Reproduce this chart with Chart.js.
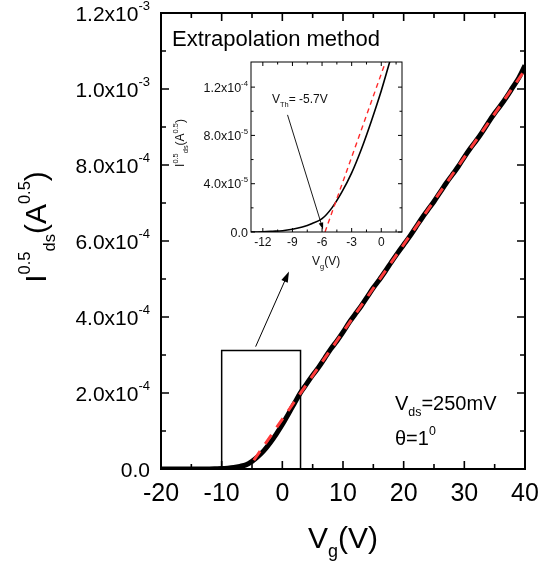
<!DOCTYPE html>
<html>
<head>
<meta charset="utf-8">
<style>
  html, body { margin: 0; padding: 0; background: #fff; }
  #wrap { position: relative; width: 541px; height: 569px; overflow: hidden; }
  canvas { position: absolute; }
</style>
<script src="https://cdn.jsdelivr.net/npm/chart.js@4.4.1/dist/chart.umd.min.js"></script>
</head>
<body>
<div id="wrap">
  <canvas id="main" width="541" height="569" style="left:0;top:0"></canvas>
  <canvas id="inset" width="240" height="220" style="left:170px;top:55px"></canvas>
</div>
<script>
// Transfer curve: gate voltage (V) vs square root of drain current (A^0.5)
const vg = [-20, -18, -16, -14, -12, -11, -10, -9, -8, -7, -6, -5, -4, -3, -2, -1, 0, 1, 2, 3,
  4, 5, 6, 7, 8, 9, 10, 11, 12, 13, 14, 15, 16, 17, 18, 19, 20, 21, 22, 23, 24, 25, 26, 27, 28,
  29, 30, 31, 32, 33, 34, 35, 36, 37, 38, 39, 40];
const sqrtIds = [0, 0, 0, 0, 2e-7, 6e-7, 1.1e-6, 2.3e-6, 4.1e-6, 7.0e-6, 1.1e-5, 2.0e-5, 3.3e-5,
  4.9e-5, 6.9e-5, 9.2e-5, 1.17e-4, 1.45e-4, 1.73e-4, 2.01e-4,
  2.24e-4, 2.47e-4, 2.68e-4, 2.92e-4, 3.16e-4, 3.37e-4, 3.60e-4, 3.85e-4, 4.07e-4, 4.29e-4,
  4.53e-4, 4.77e-4, 4.98e-4, 5.21e-4, 5.45e-4, 5.68e-4, 5.90e-4, 6.12e-4, 6.36e-4, 6.60e-4,
  6.82e-4, 7.04e-4, 7.28e-4, 7.52e-4, 7.74e-4, 7.96e-4, 8.21e-4, 8.44e-4, 8.65e-4, 8.88e-4,
  9.13e-4, 9.36e-4, 9.57e-4, 9.80e-4, 1.005e-3, 1.030e-3, 1.062e-3];

// Linear extrapolation of the on-state region (threshold at -5.7 V)
const fitVgMain = [-4.7, 40];
const fitIMain = [2.3e-5, 1.05e-3];
const fitVgInset = [-5.7, 1.0];
const fitIInset = [0, 1.54e-4];

// Region magnified in the inset
const zoomBoxVg = [-10, -10, 3, 3];
const zoomBoxI = [0, 3.12e-4, 3.12e-4, 0];
const zoomArrowVg = [-4.4, 1.1];
const zoomArrowI = [3.22e-4, 5.2e-4];
const vthArrowVg = [-9.5, -5.9];
const vthArrowI = [9.7e-5, 0.2e-5];

// Axis ticks and labels
const mainXMajor = [-20, -10, 0, 10, 20, 30, 40];
const mainXMinor = [-15, -5, 5, 15, 25, 35];
const mainXLabels = ['-20', '-10', '0', '10', '20', '30', '40'];
const mainYMajor = [0, 2e-4, 4e-4, 6e-4, 8e-4, 1.0e-3, 1.2e-3];
const mainYMinor = [1e-4, 3e-4, 5e-4, 7e-4, 9e-4, 1.1e-3];
const mainYLabels = ['0.0', '2.0x10^-4', '4.0x10^-4', '6.0x10^-4', '8.0x10^-4', '1.0x10^-3', '1.2x10^-3'];
const insetXMajor = [-12, -9, -6, -3, 0];
const insetXMinor = [-10.5, -7.5, -4.5, -1.5, 1.5];
const insetXLabels = ['-12', '-9', '-6', '-3', '0'];
const insetYMajor = [0, 4e-5, 8e-5, 1.2e-4];
const insetYMinor = [2e-5, 6e-5, 1.0e-4];
const insetYLabels = ['0.0', '4.0x10^-5', '8.0x10^-5', '1.2x10^-4'];

const FAMILY = '"Liberation Sans", Arial, Helvetica, sans-serif';

function pts(xs, ys) { return xs.map((v, i) => ({ x: v, y: ys[i] })); }

// Draws a run of text pieces; kind 1 = superscript, -1 = subscript
function richWidth(ctx, parts, size, r) {
  let w = 0;
  for (const [t, k] of parts) {
    ctx.font = (k ? size * r : size) + 'px ' + FAMILY;
    w += ctx.measureText(t).width;
  }
  return w;
}
function drawRich(ctx, parts, x, y, size, o) {
  o = Object.assign({ r: 0.6, up: 0.45, down: 0.25, align: 'left' }, o || {});
  const w = richWidth(ctx, parts, size, o.r);
  let cx = o.align === 'center' ? x - w / 2 : o.align === 'right' ? x - w : x;
  ctx.textAlign = 'left';
  ctx.textBaseline = 'alphabetic';
  for (const [t, k] of parts) {
    ctx.font = (k ? size * o.r : size) + 'px ' + FAMILY;
    const dy = k === 1 ? -size * o.up : k === -1 ? size * o.down : 0;
    ctx.fillText(t, cx, y + dy);
    cx += ctx.measureText(t).width;
  }
  return w;
}
function labelParts(s) {
  const p = s.split('^');
  return p.length > 1 ? [[p[0], 0], [p[1], 1]] : [[p[0], 0]];
}
function arrow(ctx, x0, y0, x1, y1, len, half) {
  const ang = Math.atan2(y1 - y0, x1 - x0);
  ctx.beginPath();
  ctx.moveTo(x0, y0);
  ctx.lineTo(x1 - Math.cos(ang) * len * 0.8, y1 - Math.sin(ang) * len * 0.8);
  ctx.stroke();
  ctx.beginPath();
  ctx.moveTo(x1, y1);
  ctx.lineTo(x1 - Math.cos(ang) * len - Math.sin(ang) * half, y1 - Math.sin(ang) * len + Math.cos(ang) * half);
  ctx.lineTo(x1 - Math.cos(ang) * len + Math.sin(ang) * half, y1 - Math.sin(ang) * len - Math.cos(ang) * half);
  ctx.closePath();
  ctx.fill();
}
function frameAndTicks(chart, s) {
  const { ctx, chartArea: a, scales: { x, y } } = chart;
  ctx.strokeStyle = '#000';
  ctx.lineWidth = s.frame;
  ctx.strokeRect(a.left, a.top, a.right - a.left, a.bottom - a.top);
  ctx.lineWidth = s.tickW;
  ctx.beginPath();
  const xt = (v, L) => { const p = x.getPixelForValue(v); ctx.moveTo(p, a.bottom); ctx.lineTo(p, a.bottom - L); ctx.moveTo(p, a.top); ctx.lineTo(p, a.top + L); };
  const yt = (v, L) => { const p = y.getPixelForValue(v); ctx.moveTo(a.left, p); ctx.lineTo(a.left + L, p); ctx.moveTo(a.right, p); ctx.lineTo(a.right - L, p); };
  s.xMajor.forEach(v => xt(v, s.major));
  s.xMinor.forEach(v => xt(v, s.minor));
  s.yMajor.forEach(v => yt(v, s.major));
  s.yMinor.forEach(v => yt(v, s.minor));
  ctx.stroke();
  ctx.fillStyle = s.color;
  s.xMajor.forEach((v, i) => {
    drawRich(ctx, [[s.xLabels[i], 0]], x.getPixelForValue(v), a.bottom + s.xOff, s.xSize, { align: 'center' });
  });
  s.yMajor.forEach((v, i) => {
    drawRich(ctx, labelParts(s.yLabels[i]), a.left - s.yGap, y.getPixelForValue(v) + s.ySize * 0.36,
      s.ySize, { align: 'right', r: 0.62, up: 0.48 });
  });
}

const mainDecor = {
  id: 'mainDecor',
  afterDraw(chart) {
    const { ctx, chartArea: a, scales: { x, y } } = chart;
    ctx.save();
    frameAndTicks(chart, {
      frame: 2, tickW: 1.6, major: 8, minor: 5, color: '#000',
      xMajor: mainXMajor, xMinor: mainXMinor, xLabels: mainXLabels, xSize: 25, xOff: 32,
      yMajor: mainYMajor, yMinor: mainYMinor, yLabels: mainYLabels, ySize: 21, yGap: 11
    });
    // axis titles
    drawRich(ctx, [['V', 0], ['g', -1], ['(V)', 0]], (a.left + a.right) / 2, a.bottom + 79, 30,
      { align: 'center', r: 0.6, down: 0.3 });
    ctx.save();
    ctx.translate(46, 227);
    ctx.rotate(-Math.PI / 2);
    drawRich(ctx, [['I', 0], ['0.5', 1], ['ds', -1], ['(A', 0], ['0.5', 1], [')', 0]], 0, 0, 30,
      { align: 'center', r: 0.55, up: 0.52, down: 0.3 });
    ctx.restore();
    // annotations
    drawRich(ctx, [['Extrapolation method', 0]], 172, 46, 22);
    drawRich(ctx, [['V', 0], ['ds', -1], ['=250mV', 0]], 395, 410, 20, { r: 0.62, down: 0.3 });
    drawRich(ctx, [['\u03B8=1', 0], ['0', 1]], 395, 445, 20, { r: 0.62, up: 0.48 });
    // arrow from the magnified region to the inset
    ctx.strokeStyle = '#000';
    ctx.fillStyle = '#000';
    ctx.lineWidth = 1;
    arrow(ctx, x.getPixelForValue(zoomArrowVg[0]), y.getPixelForValue(zoomArrowI[0]),
      x.getPixelForValue(zoomArrowVg[1]), y.getPixelForValue(zoomArrowI[1]), 11, 3.5);
    ctx.restore();
  }
};

const insetDecor = {
  id: 'insetDecor',
  beforeDatasetsDraw(chart) {
    const { ctx, chartArea: a } = chart;
    ctx.save();
    ctx.fillStyle = '#fff';
    ctx.fillRect(a.left, a.top, a.right - a.left, a.bottom - a.top);
    ctx.restore();
  },
  afterDraw(chart) {
    const { ctx, chartArea: a, scales: { x, y } } = chart;
    ctx.save();
    frameAndTicks(chart, {
      frame: 1, tickW: 1, major: 4, minor: 2.5, color: '#111',
      xMajor: insetXMajor, xMinor: insetXMinor, xLabels: insetXLabels, xSize: 12, xOff: 14,
      yMajor: insetYMajor, yMinor: insetYMinor, yLabels: insetYLabels, ySize: 12.5, yGap: 3
    });
    ctx.fillStyle = '#111';
    drawRich(ctx, [['V', 0], ['g', -1], ['(V)', 0]], 142, 210, 12, { r: 0.62, down: 0.3 });
    ctx.save();
    ctx.translate(14, 88);
    ctx.rotate(-Math.PI / 2);
    drawRich(ctx, [['I', 0], ['0.5', 1], ['ds', -1], ['(A', 0], ['0.5', 1], [')', 0]], 0, 0, 12,
      { align: 'center', r: 0.62, up: 0.5, down: 0.3 });
    ctx.restore();
    drawRich(ctx, [['V', 0], ['Th', -1], ['= -5.7V', 0]], 102, 48, 12, { r: 0.62, down: 0.3 });
    ctx.strokeStyle = '#000';
    ctx.fillStyle = '#000';
    ctx.lineWidth = 0.9;
    arrow(ctx, x.getPixelForValue(vthArrowVg[0]), y.getPixelForValue(vthArrowI[0]),
      x.getPixelForValue(vthArrowVg[1]), y.getPixelForValue(vthArrowI[1]), 7, 2.3);
    ctx.restore();
  }
};

const baseOptions = (xmin, xmax, ymin, ymax, padding) => ({
  responsive: false,
  animation: false,
  devicePixelRatio: 1,
  layout: { padding },
  plugins: { legend: { display: false }, tooltip: { enabled: false } },
  elements: { point: { radius: 0 } },
  scales: {
    x: { type: 'linear', min: xmin, max: xmax, display: false },
    y: { type: 'linear', min: ymin, max: ymax, display: false }
  }
});

// The first dataset is painted last, so the fit line comes first to sit on top
new Chart(document.getElementById('main'), {
  type: 'line',
  data: {
    datasets: [
      { data: pts(fitVgMain, fitIMain), borderColor: '#ff3b3b', borderWidth: 3, borderDash: [11, 9], tension: 0 },
      { data: pts(vg, sqrtIds), borderColor: '#000', borderWidth: 5, cubicInterpolationMode: 'monotone' },
      { data: pts(zoomBoxVg, zoomBoxI), borderColor: '#000', borderWidth: 1.5, tension: 0 }
    ]
  },
  options: baseOptions(-20, 40, 0, 1.2e-3, { left: 161, top: 13, right: 16, bottom: 100 }),
  plugins: [mainDecor]
});

new Chart(document.getElementById('inset'), {
  type: 'line',
  data: {
    datasets: [
      { data: pts(fitVgInset, fitIInset), borderColor: '#ff2a2a', borderWidth: 1.4, borderDash: [5, 4], tension: 0 },
      { data: pts(vg, sqrtIds), borderColor: '#000', borderWidth: 1.6, cubicInterpolationMode: 'monotone' }
    ]
  },
  options: baseOptions(-13.2, 2.1, 0, 1.408e-4, { left: 81, top: 7, right: 8, bottom: 43 }),
  plugins: [insetDecor]
});
</script>
</body>
</html>
